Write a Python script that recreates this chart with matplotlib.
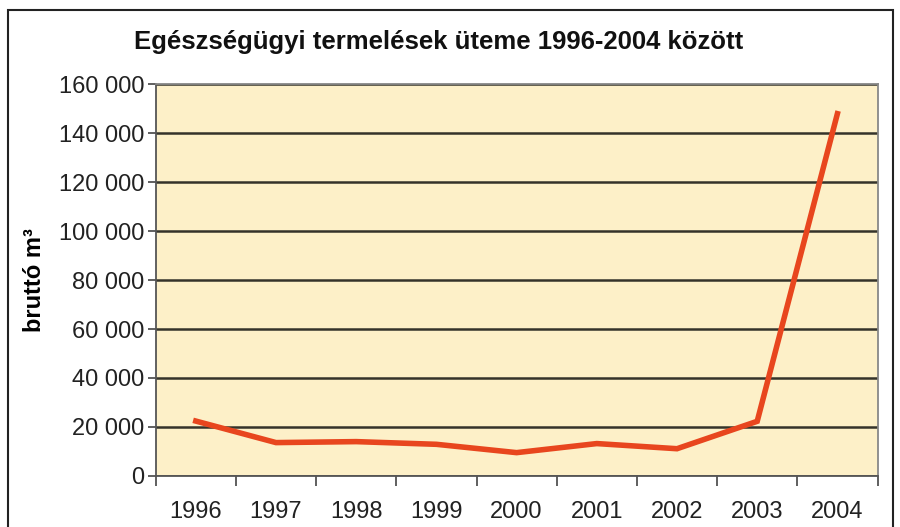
import matplotlib.pyplot as plt
from matplotlib.patches import Rectangle
from matplotlib.ticker import FuncFormatter, FixedLocator
import numpy as np

years = ['1996', '1997', '1998', '1999', '2000', '2001', '2002', '2003', '2004']
volume = [22400, 13600, 14000, 12900, 9500, 13200, 11100, 22300, 148000]
y_ticks = list(range(0, 160001, 20000))

plt.rcParams['font.family'] = ['Liberation Sans', 'DejaVu Sans']

fig = plt.figure(figsize=(9, 5.27), dpi=100)
ax = fig.add_axes([0.173, 0.097, 0.802, 0.743])
ax.set_facecolor('#fdf0c8')

x = np.arange(len(years))
ax.plot(x, volume, color='#e8461e', lw=4, solid_joinstyle='miter', zorder=3)

ax.set_xlim(-0.5, len(years) - 0.5)
ax.set_ylim(0, 160000)
ax.set_yticks(y_ticks)
ax.yaxis.set_major_formatter(FuncFormatter(lambda v, p: '{:,}'.format(int(v)).replace(',', ' ')))
ax.grid(axis='y', color='#35332a', lw=1.8, zorder=1)

# category boundaries get the tick marks, labels sit in the middle
ax.xaxis.set_major_locator(FixedLocator(np.arange(len(years) + 1) - 0.5))
ax.xaxis.set_major_formatter(FuncFormatter(lambda v, p: ''))
ax.set_xticks(x, minor=True)
ax.set_xticklabels(years, minor=True)
ax.tick_params(axis='x', which='minor', length=0, pad=18, labelsize=17, labelcolor='#222222')
ax.tick_params(axis='x', which='major', length=7, width=1.2, color='#444444')
ax.tick_params(axis='y', length=6, width=1.2, color='#444444', labelsize=17,
               labelcolor='#222222', pad=2)

for s in ['left', 'bottom']:
    ax.spines[s].set_color('#555555')
    ax.spines[s].set_linewidth(1.3)
for s in ['top', 'right']:
    ax.spines[s].set_color('#888888')
    ax.spines[s].set_linewidth(1.3)

ax.set_ylabel('bruttó m³', fontsize=17, fontweight='bold')
ax.yaxis.set_label_coords(-0.152, 0.5)

fig.text(0.487, 0.92, 'Egészségügyi termelések üteme 1996-2004 között',
         ha='center', va='center', fontsize=18.5, fontweight='bold', color='#111111')

# outer frame around the whole chart
fig.patches.append(Rectangle((8 / 900, -0.05), 885 / 900, 1.05 - 10 / 527,
                             transform=fig.transFigure, fill=False,
                             edgecolor='#222222', lw=1.5))

fig.savefig('out.png', dpi=100)
